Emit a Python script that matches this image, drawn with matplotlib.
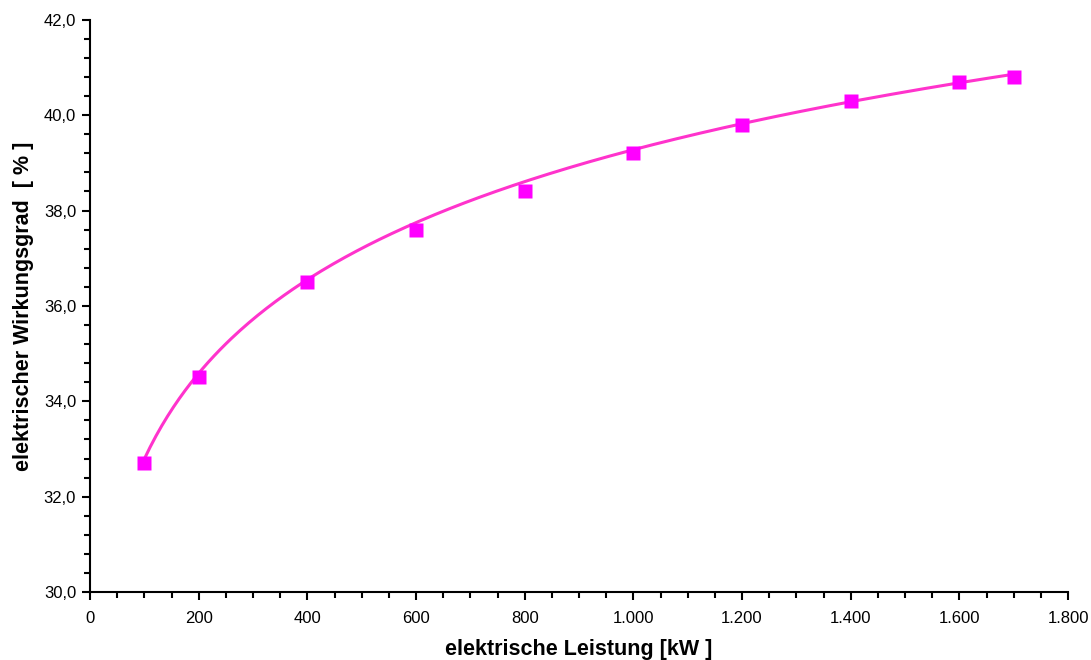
import numpy as np
import matplotlib.pyplot as plt
from matplotlib.ticker import MultipleLocator, FuncFormatter

plt.rcParams['font.family'] = ['Liberation Sans', 'DejaVu Sans']

# Messwerte
leistung = [100, 200, 400, 600, 800, 1000, 1200, 1400, 1600, 1700]
wirkungsgrad = [32.7, 34.5, 36.5, 37.6, 38.4, 39.2, 39.8, 40.3, 40.7, 40.8]

# Stützwerte der Ausgleichskurve
kurve_x = [100, 200, 400, 600, 800, 1000, 1200, 1400, 1600, 1700]
kurve_y = [32.8, 34.55, 36.6, 37.75, 38.6, 39.25, 39.8, 40.3, 40.7, 40.85]

coef = np.polyfit(np.log(kurve_x), kurve_y, 3)
xs = np.linspace(min(kurve_x), max(kurve_x), 300)
ys = np.polyval(coef, np.log(xs))

fig = plt.figure(figsize=(10.91, 6.60), dpi=100)
ax = fig.add_axes([0.0825, 0.103, 0.8965, 0.867])

ax.plot(xs, ys, color='#ff33cc', lw=2.2, zorder=2)
ax.plot(leistung, wirkungsgrad, 's', color='#ff00ff', ms=9.5, mec='none', zorder=3)

ax.set_xlim(0, 1800)
ax.set_ylim(30, 42)
ax.xaxis.set_major_locator(MultipleLocator(200))
ax.xaxis.set_minor_locator(MultipleLocator(50))
ax.yaxis.set_major_locator(MultipleLocator(2))
ax.yaxis.set_minor_locator(MultipleLocator(0.4))

ax.xaxis.set_major_formatter(FuncFormatter(lambda v, p: f'{int(v):,}'.replace(',', '.')))
ax.yaxis.set_major_formatter(FuncFormatter(lambda v, p: f'{v:.1f}'.replace('.', ',')))

for s in ['top', 'right']:
    ax.spines[s].set_visible(False)
for s in ['left', 'bottom']:
    ax.spines[s].set_linewidth(1.5)
ax.tick_params(which='major', length=6, width=1.5, labelsize=12, pad=4)
ax.tick_params(which='minor', length=4, width=1.5)
ax.tick_params(axis='x', pad=8)

ax.set_xlabel('elektrische Leistung [kW ]', fontsize=15.5, fontweight='bold', labelpad=9)
ax.set_ylabel('elektrischer Wirkungsgrad  [ % ]', fontsize=15.5, fontweight='bold', labelpad=7)

fig.savefig('out.png', dpi=100)
